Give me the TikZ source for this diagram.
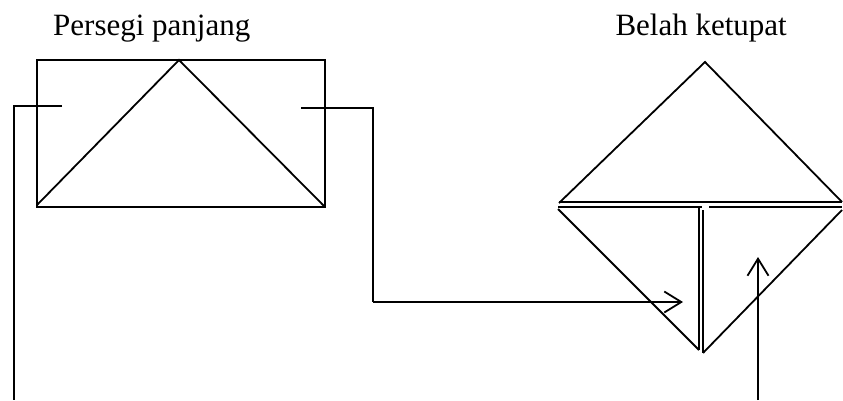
\documentclass[tikz,border=0pt]{standalone}
\usepackage{fontspec}
\setmainfont{Liberation Serif}
\usetikzlibrary{arrows.meta}
\begin{document}
\begin{tikzpicture}[x=1pt,y=-1pt,
  shape line/.style={line width=1.8pt, line join=miter},
  link/.style={line width=1.8pt},
  arr/.style={link, -{Straight Barb[length=17pt,width=21pt,line width=1.8pt]}},
  title/.style={inner sep=0pt, font=\fontsize{31}{37}\selectfont}]
\useasboundingbox (0,0) rectangle (843,400);
% titles
\node[title, anchor=base west] (t1) at (53,35) {Persegi panjang};
\node[title, anchor=base east] (t2) at (787,35) {Belah ketupat};
% rectangle
\coordinate (r1) at (37,60);
\coordinate (r2) at (325,207);
\coordinate (ra) at (179,60);
\draw[shape line] (r1) rectangle (r2);
\draw[shape line] (37,205) -- (ra) -- (325,207);
% diamond upper triangle
\coordinate (dt) at (705,62);
\draw[shape line] (559,203) -- (dt) -- (842,202);
\draw[shape line] (559,202) -- (842,202);
% lower left piece
\draw[shape line] (558,207) -- (702,207);
\draw[shape line] (699,207) -- (699,350);
\draw[shape line] (558,209) -- (699,350);
% lower right piece
\draw[shape line] (709,207) -- (842,207);
\draw[shape line] (703,210) -- (703,353);
\draw[shape line] (703,353) -- (842,210);
% connectors
\coordinate (a1) at (14,106);
\coordinate (a2) at (62,106);
\coordinate (a3) at (14,400);
\draw[link] (a2) -- (a1) -- (a3);
\coordinate (b1) at (301,108);
\coordinate (b2) at (373,108);
\coordinate (b3) at (373,302);
\coordinate (b4) at (683,302);
\draw[link] (b1) -- (b2) -- (b3);
\draw[arr] (b3) -- (b4);
\coordinate (c1) at (758,400);
\coordinate (c2) at (758,257);
\draw[arr] (c1) -- (c2);
\end{tikzpicture}
\end{document}
